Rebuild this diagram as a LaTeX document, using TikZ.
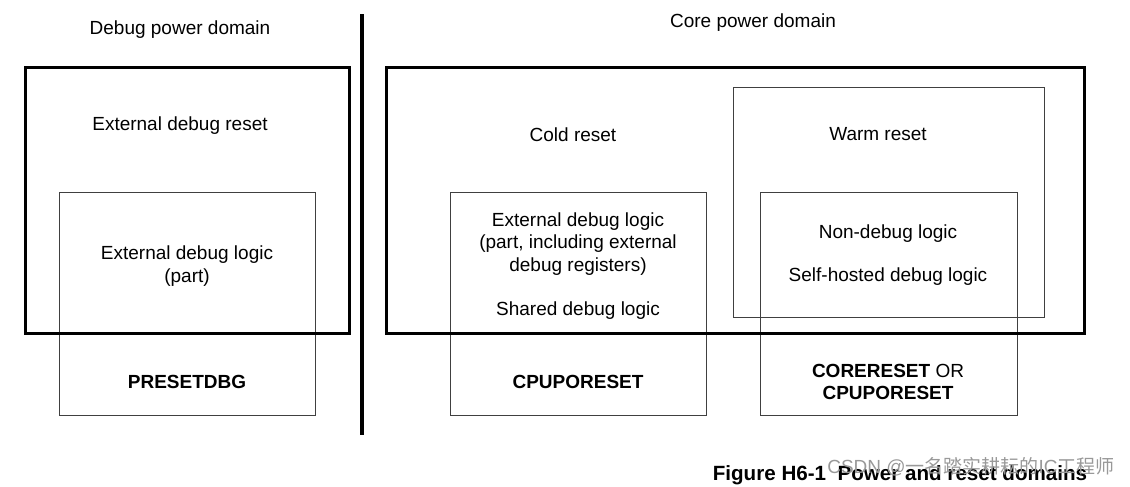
\documentclass[tikz,border=0pt]{standalone}
\usepackage{fontspec}
\setmainfont{Liberation Sans}
\newfontfamily\cjk{Noto Sans CJK SC}
\usepackage{tikz}
\usepackage{xcolor}
\usetikzlibrary{calc}

\tikzset{
	domainbox/.style={black, line width=1.5pt},
	logicbox/.style={black!75, line width=0.5pt},
	lbl/.style={align=center, inner sep=0pt, font=\fontsize{9.5}{11.3}\selectfont},
	rst/.style={lbl, font=\fontsize{9.5}{11.3}\selectfont\bfseries}
}

\begin{document}
\begin{tikzpicture}[x=0.5pt, y=-0.5pt]
		\useasboundingbox (0,0) rectangle (1130,487);
		% debug power domain
		\draw[logicbox] (59,192) rectangle (315,415);
		\draw[domainbox] (25,67) rectangle (349,333);
		\node[lbl] (dbgdom) at (180,30) {Debug power domain};
		\node[lbl] (extrst) at (180,126) {External debug reset};
		\node[lbl] (extlogic) at (187,266) {External debug logic\\(part)};
		\node[rst] (presetdbg) at (187,382) {PRESETDBG};
		% divider
		\draw[black, line width=2pt] (362,14) -- (362,435);
		% core power domain
		\draw[logicbox] (450,192) rectangle (706,415);
		\draw[logicbox] (733,87) rectangle (1044,317);
		\draw[logicbox] (760,192) rectangle (1017,415);
		\draw[domainbox] (386,67) rectangle (1084,333);
		\node[lbl] (coredom) at (753,23) {Core power domain};
		\node[lbl] (coldrst) at (573,135) {Cold reset};
		\node[lbl] (sharedext) at (578,244) {External debug logic\\(part, including external\\debug registers)};
		\node[lbl] (shared) at (578,311) {Shared debug logic};
		\node[rst] (cpuporeset) at (578,382) {CPUPORESET};
		\node[lbl] (warmrst) at (878,134) {Warm reset};
		\node[lbl] (nondbg) at (888,234) {Non-debug logic};
		\node[lbl] (selfhosted) at (888,277) {Self-hosted debug logic};
		\node[lbl] (corereset) at (888,382) {\textbf{CORERESET} OR\\\textbf{CPUPORESET}};
		% caption
		\node[lbl, font=\fontsize{10.3}{12}\selectfont\bfseries] (caption) at (900,475) {Figure H6-1\ \ Power and reset domains};
		\node[lbl, text=black!40, font=\fontsize{9.5}{11}\selectfont] (mark) at (971,467) {CSDN @{\cjk 一名踏实耕耘的}IC{\cjk 工程师}};
	\end{tikzpicture}
\end{document}
